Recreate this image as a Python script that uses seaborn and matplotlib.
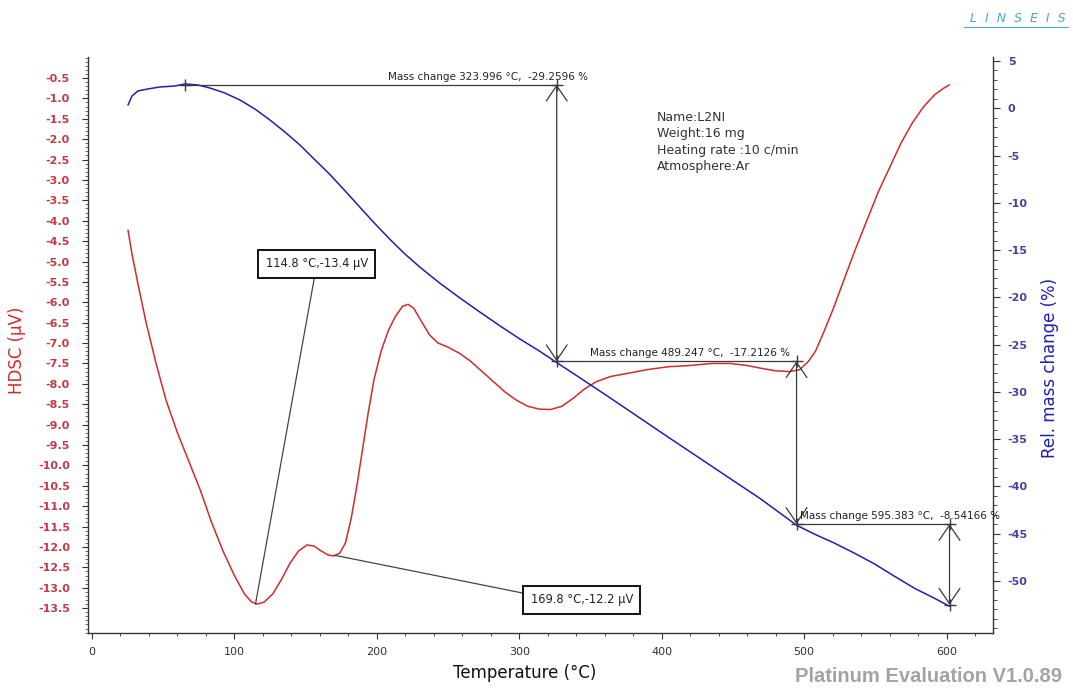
import numpy as np
import pandas as pd
import matplotlib
matplotlib.use("Agg")
import matplotlib.pyplot as plt
import seaborn as sns
from matplotlib.ticker import MultipleLocator, FixedLocator
from matplotlib.lines import Line2D

# ---------------- data ----------------
temp_hdsc = [25.3, 28, 32, 38, 45, 52, 60, 68, 76, 84, 92, 100, 107, 112, 116, 121, 127, 133,
             139, 145, 151, 156, 161, 166, 170, 174, 178, 182, 186, 190, 194, 198, 203, 208,
             213, 218, 222, 226, 231, 237, 243, 250, 258, 266, 274, 282, 290, 298, 306, 314,
             322, 330, 338, 346, 354, 364, 375, 390, 405, 420, 435, 448, 460, 470, 480, 490,
             497, 503, 508, 513, 520, 528, 536, 544, 552, 560, 568, 576, 584, 592, 598, 602]
hdsc = [-4.23, -4.8, -5.5, -6.5, -7.5, -8.4, -9.2, -9.9, -10.6, -11.4, -12.1, -12.7, -13.15,
        -13.35, -13.4, -13.35, -13.15, -12.8, -12.4, -12.1, -11.95, -11.98, -12.1, -12.2,
        -12.22, -12.15, -11.9, -11.3, -10.5, -9.6, -8.7, -7.9, -7.2, -6.7, -6.35, -6.1, -6.05,
        -6.15, -6.45, -6.8, -7.0, -7.1, -7.25, -7.45, -7.7, -7.95, -8.2, -8.4, -8.55, -8.62,
        -8.63, -8.55, -8.35, -8.12, -7.95, -7.82, -7.75, -7.65, -7.58, -7.55, -7.5, -7.5,
        -7.55, -7.62, -7.68, -7.7, -7.65, -7.45, -7.2, -6.8, -6.2, -5.45, -4.7, -4.0, -3.3,
        -2.7, -2.1, -1.6, -1.2, -0.9, -0.75, -0.67]

temp_mass = [25.3, 28.1, 32.3, 39.3, 47.7, 58.2, 65.3, 74.4, 82.8, 93.3, 103.9, 114.4, 124.9,
             135.4, 146.0, 156.5, 167.0, 177.5, 188.0, 198.6, 209.1, 219.6, 230.2, 244.2,
             258.2, 272.3, 286.3, 300.4, 314.4, 326.3, 342.5, 363.5, 384.6, 405.6, 426.7,
             447.7, 468.8, 494.7, 507.4, 521.4, 535.4, 549.5, 563.5, 577.5, 591.6, 602.1]
mass = [0.34, 1.3, 1.83, 2.04, 2.25, 2.35, 2.57, 2.46, 2.14, 1.61, 0.87, -0.08, -1.24, -2.51,
        -3.89, -5.45, -7.0, -8.7, -10.45, -12.2, -13.85, -15.4, -16.8, -18.5, -20.05,
        -21.55, -23.0, -24.4, -25.7, -26.9, -28.5, -30.6, -32.75, -34.89, -37.01,
        -39.13, -41.24, -44.1, -45.05, -46.0, -47.06, -48.2, -49.5, -50.77, -51.83, -52.67]

hdsc_ticks = [-0.5, -1.0, -1.5, -2.0, -2.5, -3.0, -3.5, -4.0, -4.5, -5.0, -5.5, -6.0, -6.5,
              -7.0, -7.5, -8.0, -8.5, -9.0, -9.5, -10.0, -10.5, -11.0, -11.5, -12.0, -12.5,
              -13.0, -13.5]
mass_ticks = [5, 0, -5, -10, -15, -20, -25, -30, -35, -40, -45, -50]
temp_ticks = [0, 100, 200, 300, 400, 500, 600]

# mass-change evaluation points and labels
mc_T = [65.3, 326.3, 494.7, 602.1]
mc_v = [2.5, -26.76, -43.97, -52.51]
mc_labels = ["Mass change 323.996 \u00b0C,  -29.2596 %",
             "Mass change 489.247 \u00b0C,  -17.2126 %",
             "Mass change 595.383 \u00b0C,  -8.54166 %"]
mc_label_T = [207.7, 349.5, 497.0]

# DSC peak callouts
peak_T = [114.8, 169.8]
peak_v = [-13.4, -12.2]
peak_labels = ["114.8 \u00b0C,-13.4 \u00b5V", "169.8 \u00b0C,-12.2 \u00b5V"]
peak_box_T = [157.9, 343.9]
peak_box_v = [-5.06, -13.29]

info_lines = ["Name:L2NI", "Weight:16 mg", "Heating rate :10 c/min", "Atmosphere:Ar"]

# ---------------- style ----------------
sns.set_theme(style="ticks")
plt.rcParams["font.family"] = ["DejaVu Sans"]

RED = "#d42a2a"
RED_T = "#c23a44"
BLUE = "#1f1fb0"
BLUE_T = "#4444a0"
GREY = "#333333"

fig = plt.figure(figsize=(10.73, 6.90), dpi=100)
fig.patch.set_facecolor("white")
ax = fig.add_axes([0.082, 0.0826, 0.843, 0.8348])
ax.set_facecolor("white")
ax2 = ax.twinx()

df_h = pd.DataFrame({"T": temp_hdsc, "HDSC": hdsc})
df_m = pd.DataFrame({"T": temp_mass, "mass": mass})

sns.lineplot(data=df_h, x="T", y="HDSC", ax=ax, color=RED, linewidth=1.1, sort=False)
sns.lineplot(data=df_m, x="T", y="mass", ax=ax2, color=BLUE, linewidth=1.1, sort=False)

ax.set_xlim(-2.8, 632.3)
ax.set_ylim(-14.11, 0.015)
ax2.set_ylim(-55.5, 5.42)

# spines
for a in (ax, ax2):
    a.spines["top"].set_visible(False)
    for s in a.spines.values():
        s.set_color(GREY)
        s.set_linewidth(1.0)
ax.spines["right"].set_visible(False)
ax2.spines["left"].set_visible(False)
ax2.spines["bottom"].set_visible(False)

# ticks
ax.xaxis.set_major_locator(FixedLocator(temp_ticks))
ax.xaxis.set_minor_locator(MultipleLocator(20))
ax.yaxis.set_major_locator(FixedLocator(hdsc_ticks))
ax.yaxis.set_minor_locator(MultipleLocator(0.1))
ax2.yaxis.set_major_locator(FixedLocator(mass_ticks))
ax2.yaxis.set_minor_locator(MultipleLocator(1))

ax.tick_params(axis="x", which="major", direction="out", length=4, width=0.8, color=GREY,
               labelsize=8, labelcolor="#333333", pad=6)
ax.tick_params(axis="x", which="minor", direction="out", length=2, width=0.6, color=GREY)
ax.tick_params(axis="y", which="major", direction="out", length=4, width=0.8, color=GREY,
               labelsize=8, labelcolor=RED_T, pad=9)
ax.tick_params(axis="y", which="minor", direction="out", length=2, width=0.5, color=GREY)
ax2.tick_params(axis="y", which="major", direction="out", length=5, width=0.8, color=GREY,
                labelsize=8, labelcolor=BLUE_T, pad=6)
ax2.tick_params(axis="y", which="minor", direction="out", length=3, width=0.6, color=GREY)

ax.set_yticklabels([f"{t:.1f}" for t in hdsc_ticks], fontweight="bold")
ax2.set_yticklabels([f"{t:d}" for t in mass_ticks], fontweight="bold")
ax.set_xticklabels([str(t) for t in temp_ticks])

# axis labels
ax.set_xlabel("Temperature (\u00b0C)", fontsize=12, color="#111111")
ax.xaxis.set_label_coords(0.483, -0.054)
ax.set_ylabel("HDSC (\u00b5V)", fontsize=12, color=RED)
ax.yaxis.set_label_coords(-0.0685, 0.49)
ax2.set_ylabel("Rel. mass change (%)", fontsize=12, color=BLUE)
ax2.yaxis.set_label_coords(1.054, 0.46)

# ---------------- mass change annotations ----------------
LINE = "#3a3a3a"
for i in range(3):
    x0, x1 = mc_T[i], mc_T[i + 1]
    y0, y1 = mc_v[i], mc_v[i + 1]
    ax2.plot([x0, x1], [y0, y0], color=LINE, lw=0.9, zorder=4)
    ax2.annotate("", xy=(x1, y1), xytext=(x1, y0),
                 arrowprops=dict(arrowstyle="<->,head_length=1.1,head_width=0.75",
                                 color=LINE, lw=0.9, shrinkA=0, shrinkB=0,
                                 mutation_scale=10), zorder=4)
    ax2.annotate(mc_labels[i], xy=(mc_label_T[i], y0), xytext=(0, 2),
                 textcoords="offset points", ha="left", va="bottom",
                 fontsize=7.5, color="#222222", zorder=5)
mk_x = [mc_T[0], mc_T[1], mc_T[1], mc_T[2], mc_T[2], mc_T[3], mc_T[3]]
mk_y = [mc_v[0], mc_v[0], mc_v[1], mc_v[1], mc_v[2], mc_v[2], mc_v[3]]
ax2.plot(mk_x, mk_y, linestyle="none", marker="+", markersize=8, mew=1.0, color=LINE, zorder=5)

# ---------------- peak callouts ----------------
for i in range(2):
    rel = (0.5, 0.5) if i == 0 else (0.0, 0.88)
    ax.annotate(peak_labels[i], xy=(peak_T[i], peak_v[i]),
                xytext=(peak_box_T[i], peak_box_v[i]), textcoords="data",
                ha="center", va="center", fontsize=8.3, color="#222222",
                bbox=dict(boxstyle="square,pad=0.65", fc="white", ec="#111111", lw=1.4),
                arrowprops=dict(arrowstyle="-", color="#444444", lw=0.9,
                                relpos=rel, shrinkA=0, shrinkB=0),
                zorder=6)

# info text
fig.text(657 / 1073, 1 - 111 / 690, "\n".join(info_lines), fontsize=9,
         color="#333333", ha="left", va="top", linespacing=1.33)

# footer / logo
fig.text(1062 / 1073, 1 - 686 / 690, "Platinum Evaluation V1.0.89",
         fontsize=14.5, fontweight="bold", color="#a3a3a3",
         family=["Liberation Sans", "DejaVu Sans"], ha="right", va="bottom")
fig.text(1066 / 1073, 1 - 25 / 690, "L  I  N  S  E  I  S", fontsize=9, style="italic",
         color="#4aa6d6", ha="right", va="bottom")
fig.add_artist(Line2D([964 / 1073, 1068 / 1073], [1 - 27 / 690, 1 - 27 / 690],
                      color="#4aa6d6", lw=0.8))

fig.savefig("out.png", dpi=100, facecolor="white")
